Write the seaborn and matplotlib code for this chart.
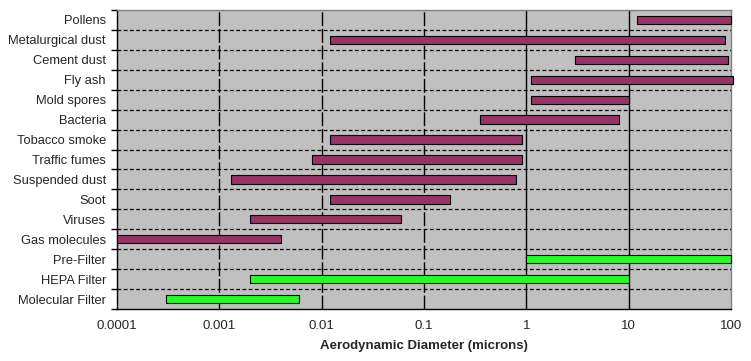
import matplotlib
matplotlib.use("Agg")
import matplotlib.pyplot as plt
from matplotlib.ticker import FixedLocator, FixedFormatter, NullFormatter
import seaborn as sns
import pandas as pd

categories = ["Pollens", "Metalurgical dust", "Cement dust", "Fly ash", "Mold spores",
              "Bacteria", "Tobacco smoke", "Traffic fumes", "Suspended dust", "Soot",
              "Viruses", "Gas molecules", "Pre-Filter", "HEPA Filter", "Molecular Filter"]
size_min = [12, 0.012, 3, 1.1, 1.1, 0.35, 0.012, 0.008, 0.0013, 0.012,
            0.002, 0.0001, 1, 0.002, 0.0003]
size_max = [100, 88, 93, 105, 10, 8, 0.9, 0.9, 0.8, 0.18,
            0.06, 0.004, 100, 10, 0.006]
kind = ["particle"] * 12 + ["filter"] * 3

tick_vals = [0.0001, 0.001, 0.01, 0.1, 1, 10, 100]
tick_labels = ["0.0001", "0.001", "0.01", "0.1", "1", "10", "100"]

df = pd.DataFrame({"name": categories, "lo": size_min, "hi": size_max, "kind": kind})
colors = {"particle": "#993366", "filter": "#22FF22"}

sns.set_style("white")
plt.rcParams["font.family"] = ["Liberation Sans", "DejaVu Sans"]

fig = plt.figure(figsize=(7.51, 3.61), dpi=100)
ax = fig.add_axes([117 / 751, 1 - 309 / 361, 614 / 751, 299 / 361])
ax.set_facecolor("#C0C0C0")

ax.set_xscale("log")
ax.set_xlim(0.0001, 100)
ax.set_ylim(len(df) - 0.5, -0.5)

# grid lines
for v in tick_vals[1:-1]:
    if v >= 1:
        ax.axvline(v, color="black", lw=1, zorder=1)
    else:
        ax.axvline(v, color="black", lw=1, dashes=(10, 2), zorder=1)
for i in range(1, len(df)):
    ax.axhline(i - 0.5, color="black", lw=0.9, dashes=(3, 2), zorder=1)

ax.barh(df.index, df["hi"] - df["lo"], left=df["lo"], height=0.42,
        color=[colors[k] for k in df["kind"]], edgecolor="black", lw=0.8,
        zorder=3, clip_on=False)

ax.yaxis.set_major_locator(FixedLocator(range(len(df))))
ax.yaxis.set_major_formatter(FixedFormatter(categories))
ax.yaxis.set_minor_locator(FixedLocator([i - 0.5 for i in range(len(df) + 1)]))
ax.tick_params(axis="y", which="major", length=0, pad=8, labelsize=9.3)
ax.tick_params(axis="y", which="minor", length=4, width=1, color="black", direction="out", left=True)

ax.xaxis.set_major_locator(FixedLocator(tick_vals))
ax.xaxis.set_major_formatter(FixedFormatter(tick_labels))
ax.xaxis.set_minor_locator(FixedLocator([]))
ax.xaxis.set_minor_formatter(NullFormatter())
ax.tick_params(axis="x", which="major", length=0, pad=8, labelsize=9.5)

ax.set_xlabel("Aerodynamic Diameter (microns)", fontsize=9.5, fontweight="bold", labelpad=6)

for s in ["top", "right"]:
    ax.spines[s].set_color("#808080")
for s in ["left", "bottom"]:
    ax.spines[s].set_color("black")
for s in ax.spines.values():
    s.set_linewidth(1)
    s.set_visible(True)

fig.savefig("out.png", dpi=100)
